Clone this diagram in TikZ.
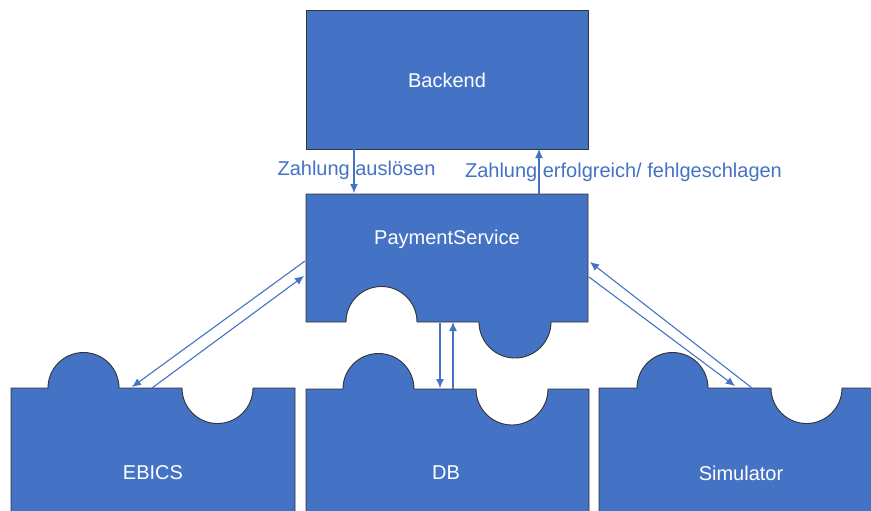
\documentclass[tikz,border=0pt]{standalone}
\usepackage{fontspec}
\setmainfont{Liberation Sans}
\usetikzlibrary{arrows.meta}
\definecolor{piecebl}{HTML}{4472C4}
\tikzset{
  piece/.style={fill=piecebl, draw=black!80, line width=0.9pt},
  piecetext/.style={text=white, font=\fontsize{20}{24}\selectfont},
  flow/.style={draw=piecebl, line width=1.1pt, -{Latex[length=9pt,width=8pt]}},
  flowtext/.style={text=piecebl, font=\fontsize{20}{24}\selectfont}
}

\begin{document}
\begin{tikzpicture}[x=1pt,y=-1pt]
            \clip (0,0) rectangle (871,511);
            % Backend
            \draw[piece] (306,10) rectangle (588,149);
            \node[piecetext] (backend) at (447,80) {Backend};
            % PaymentService
            \draw[piece] (306,194) -- (588,194) -- (588,322) -- (551,322)
                arc[start angle=0, end angle=180, radius=36] -- (417,322)
                arc[start angle=0, end angle=-180, radius=35.5] -- (306,322) -- cycle;
            \node[piecetext] (pay) at (447,239) {PaymentService};
            % EBICS, DB, Simulator
            \draw[piece] (11,530) -- (11,388) -- (48,388)
                arc[start angle=180, end angle=360, radius=35.5] -- (182,388)
                arc[start angle=180, end angle=0, radius=35.5] -- (295,388) -- (295,530) -- cycle;
            \node[piecetext] (ebics) at (153,473) {EBICS};
            \draw[piece] (306,530) -- (306,389) -- (343,389)
                arc[start angle=180, end angle=360, radius=35.5] -- (476,389)
                arc[start angle=180, end angle=0, radius=36] -- (589,389) -- (589,530) -- cycle;
            \node[piecetext] (db) at (446,473) {DB};
            \draw[piece] (599,530) -- (599,388) -- (637,388)
                arc[start angle=180, end angle=360, radius=35.5] -- (771,388)
                arc[start angle=180, end angle=0, radius=35.5] -- (884,388) -- (884,530) -- cycle;
            \node[piecetext] (sim) at (741,473) {Simulator};
            % connector ends
            \coordinate (bk-a) at (354,149);
            \coordinate (pay-a) at (354,193);
            \coordinate (bk-b) at (539,149);
            \coordinate (pay-b) at (539,194);
            \coordinate (pay-l1) at (305,261);
            \coordinate (pay-l2) at (304,276);
            \coordinate (eb-a) at (132,387);
            \coordinate (eb-b) at (152,388);
            \coordinate (pay-d1) at (440,323);
            \coordinate (pay-d2) at (453,322);
            \coordinate (db-a) at (440,388);
            \coordinate (db-b) at (453,389);
            \coordinate (pay-r1) at (590,262);
            \coordinate (pay-r2) at (589,277);
            \coordinate (sim-a) at (735,386);
            \coordinate (sim-b) at (752,388);
            % Pfeile
            \draw[flow] (bk-a) -- (pay-a);
            \draw[flow] (pay-b) -- (bk-b);
            \node[flowtext] (t-go) at (356.5,170) {Zahlung auslösen};
            \node[flowtext] (t-back) at (623.5,172) {Zahlung erfolgreich/ fehlgeschlagen};
            \draw[flow] (pay-l1) -- (eb-a);
            \draw[flow] (eb-b) -- (pay-l2);
            \draw[flow] (pay-d1) -- (db-a);
            \draw[flow] (db-b) -- (pay-d2);
            \draw[flow] (pay-r2) -- (sim-a);
            \draw[flow] (sim-b) -- (pay-r1);
        \end{tikzpicture}
\end{document}
